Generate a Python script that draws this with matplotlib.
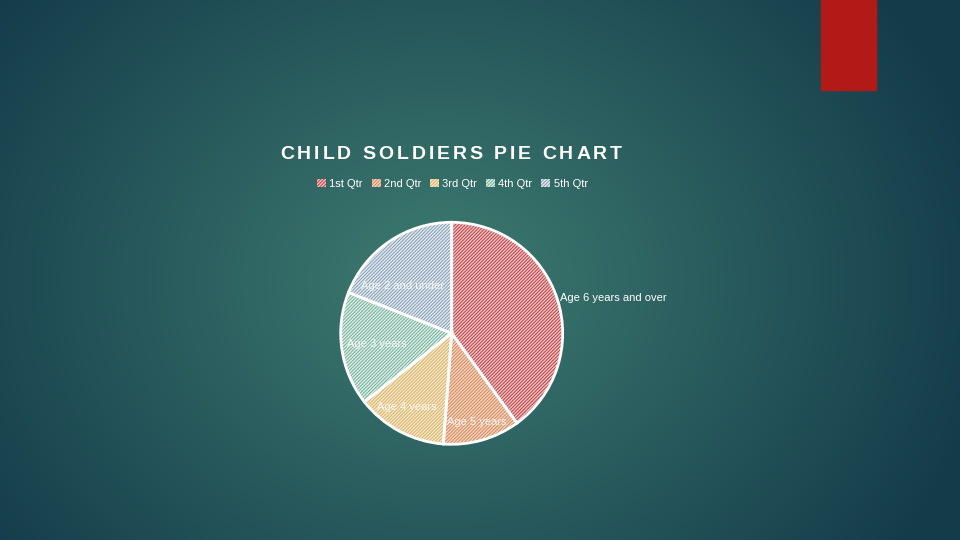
import matplotlib.pyplot as plt
import matplotlib.patches as mpatches
import numpy as np

# data
labels = ["Age 6 years and over", "Age 5 years", "Age 4 years", "Age 3 years", "Age 2 and under"]
values = [40, 11.2, 13.2, 16.6, 19]
legend_labels = ["1st Qtr", "2nd Qtr", "3rd Qtr", "4th Qtr", "5th Qtr"]

fills = ["#f7c0c0", "#f9d6ba", "#fce9bc", "#d6f2e6", "#e0ebf3"]
hatches = ["#b64a4e", "#d08a66", "#d2b47e", "#82ad9f", "#8ea0b2"]
label_r = [1.03, 0.83, 0.78, 0.68, 0.61]
label_turn = [0, 0, -3, 0, 12]
title = "CHILD SOLDIERS PIE CHART"

plt.rcParams['font.family'] = ['Liberation Sans', 'DejaVu Sans']
plt.rcParams['hatch.linewidth'] = 0.75

fig = plt.figure(figsize=(9.6, 5.4), dpi=100)

# background
bg = fig.add_axes([0, 0, 1, 1])
yy, xx = np.mgrid[0:540, 0:960]
d = np.sqrt(((xx - 440) / 560.0) ** 2 + ((yy - 280) / 470.0) ** 2)
d = np.clip(d, 0, 1)
c_in = np.array([0x3e, 0x7c, 0x71]) / 255.0
c_out = np.array([0x14, 0x3b, 0x4a]) / 255.0
img = c_in[None, None, :] * (1 - d[..., None]) + c_out[None, None, :] * d[..., None]
bg.imshow(img, aspect='auto', extent=[0, 960, 540, 0])
bg.add_patch(mpatches.Rectangle((821, 0), 55, 90, color="#b21a18"))
bg.set_xlim(0, 960)
bg.set_ylim(540, 0)
bg.axis('off')

# pie
cx, cy, r = 451.7, 333.3, 111
ax = fig.add_axes([(cx - r) / 960, (540 - cy - r) / 540, 2 * r / 960, 2 * r / 540])
wedges, _ = ax.pie(values, startangle=90, counterclock=False, colors=fills,
                   wedgeprops=dict(linewidth=0))
for w, hc in zip(wedges, hatches):
    w.set_hatch("//////////")
    w.set_edgecolor(hc)
ax.pie(values, startangle=90, counterclock=False, colors=["none"] * 5,
       wedgeprops=dict(linewidth=2, edgecolor="white", fill=False))
for w, lab, lr, lt in zip(wedges, labels, label_r, label_turn):
    ang = np.deg2rad((w.theta1 + w.theta2) / 2 + lt)
    x, y = lr * np.cos(ang), lr * np.sin(ang)
    ha = 'left' if lr > 1 else 'center'
    ax.text(x, y, lab, ha=ha, va='center', color='white', fontsize=8,
            alpha=1 if lr > 1 else 0.85)
ax.set_xlim(-1, 1)
ax.set_ylim(-1, 1)

# title with letter spacing
renderer = fig.canvas.get_renderer()
xpos = 280
for ch in title:
    t = fig.text(xpos / 960, 1 - 155 / 540, ch, color='white', fontsize=14,
                 fontweight='bold', va='center', ha='left')
    wpx = t.get_window_extent(renderer).width
    if ch == " ":
        wpx = 5
    xpos += wpx + 3.0

# legend
handles = [mpatches.Patch(facecolor=f, edgecolor=h, hatch="//////////", linewidth=0)
           for f, h in zip(fills, hatches)]
leg = fig.legend(handles, legend_labels, loc='center', bbox_to_anchor=(452.5 / 960, 1 - 184 / 540),
                 ncol=5, frameon=False, fontsize=8, handlelength=0.8, handleheight=0.8,
                 handletextpad=0.3, columnspacing=0.8, labelcolor='white')

fig.savefig("out.png", dpi=100)
